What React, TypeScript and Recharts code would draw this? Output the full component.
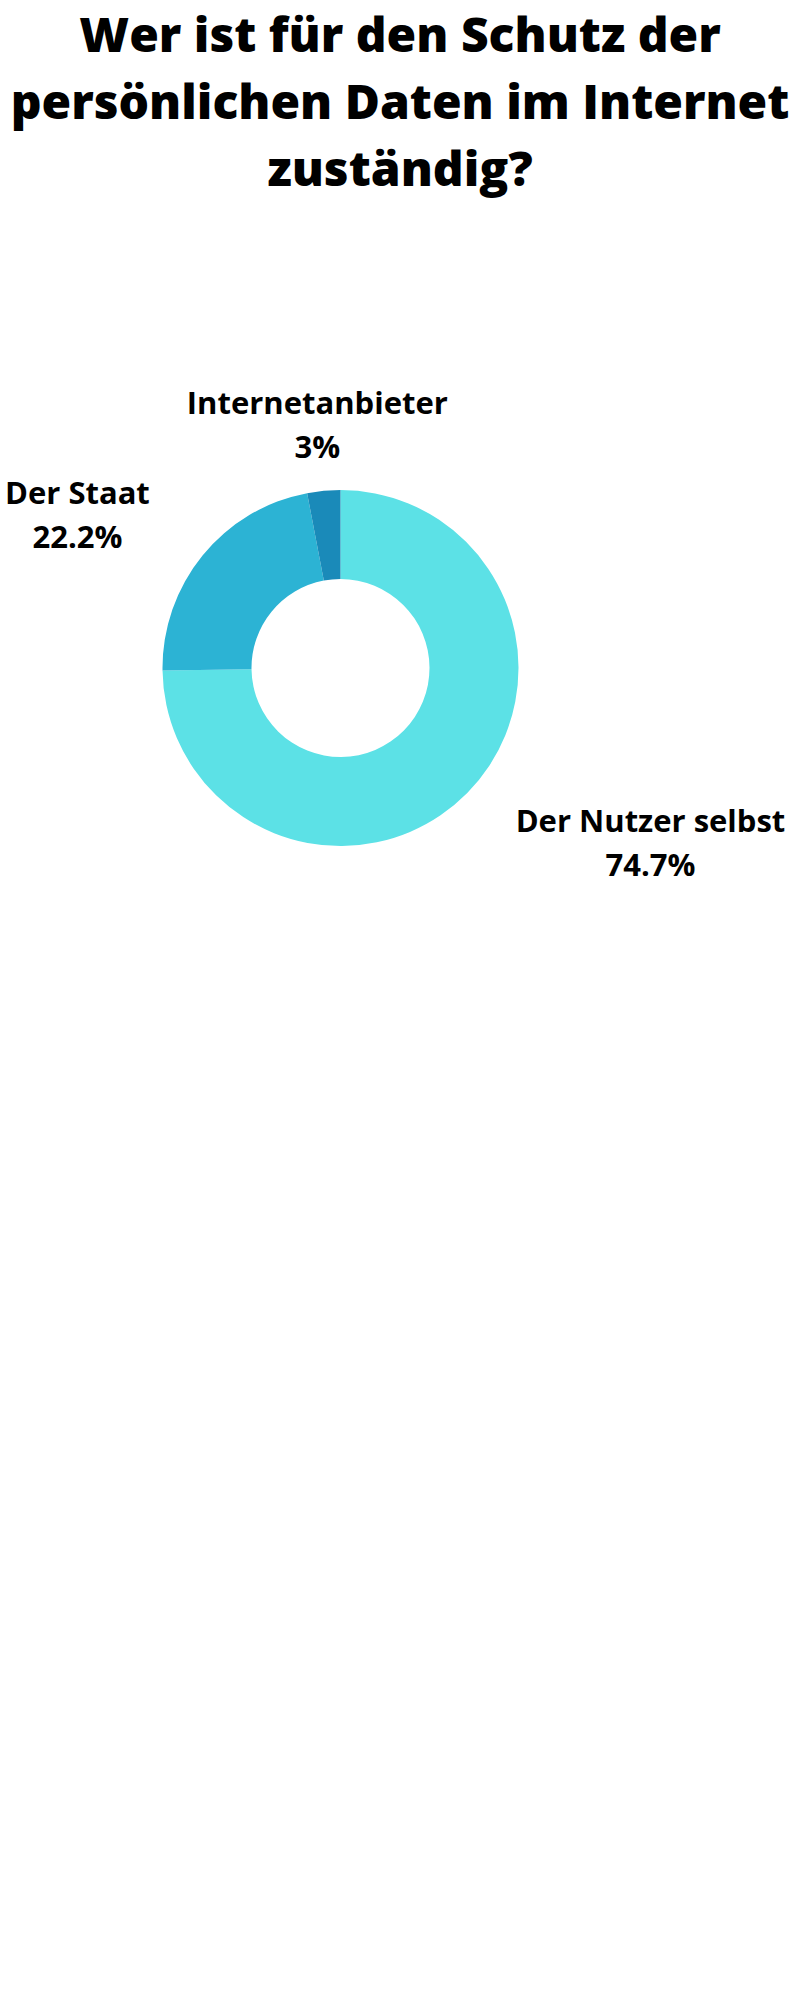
import React from 'react'
import { PieChart, Pie, Cell } from 'recharts'

// Survey answers, clockwise from 12 o'clock
const categories = ['Der Nutzer selbst', 'Der Staat', 'Internetanbieter']
const shares = [74.7, 22.2, 3]
const sliceColors = ['#5ce1e6', '#2cb3d4', '#1a8ab9']

const titleLines = [
  'Wer ist für den Schutz der',
  'persönlichen Daten im Internet',
  'zuständig?',
]

const FONT = '"Open Sans", "Noto Sans", sans-serif'
const LABEL_SIZE = 31

const pieData = categories.map((name, i) => ({ name, value: shares[i] }))

// width of a label line, so the two centred lines can sit beside the ring
function textWidth(s: string) {
  try {
    const ctx = document.createElement('canvas').getContext('2d')
    if (ctx) {
      ctx.font = `700 ${LABEL_SIZE}px ${FONT}`
      const w = ctx.measureText(s).width
      if (w > 0) return w
    }
  } catch (e) {
    // fall through
  }
  return s.length * LABEL_SIZE * 0.56
}

function renderLabel(props: any) {
  const RADIAN = Math.PI / 180
  const { cx, cy, midAngle, outerRadius, name, value } = props
  const r = Number(outerRadius) + 68
  const cos = Math.cos(-Number(midAngle) * RADIAN)
  const sin = Math.sin(-Number(midAngle) * RADIAN)
  const px = Number(cx) + r * cos
  const py = Number(cy) + r * sin
  const pct = `${value}%`
  const half = Math.max(textWidth(name), textWidth(pct)) / 2
  const x = Math.abs(cos) < 0.2 ? px : cos > 0 ? px + half : px - half
  return (
    <text
      x={x}
      y={py}
      textAnchor="middle"
      fontFamily={FONT}
      fontWeight={700}
      fontSize={LABEL_SIZE}
      fill="#000"
    >
      <tspan x={x} dy={-9}>{name}</tspan>
      <tspan x={x} dy={44}>{pct}</tspan>
    </text>
  )
}

export default function App() {
  return (
    <div
      style={{
        position: 'absolute',
        left: 0,
        top: 0,
        width: 800,
        height: 2000,
        background: '#fff',
      }}
    >
      <div
        style={{
          position: 'absolute',
          top: 0,
          left: 0,
          width: 800,
          textAlign: 'center',
          fontFamily: FONT,
          fontWeight: 800,
          fontSize: 48,
          lineHeight: '67px',
          color: '#000',
        }}
      >
        {titleLines.map((line) => (
          <div key={line}>{line}</div>
        ))}
      </div>
      <div style={{ position: 'absolute', top: 0, left: 0 }}>
        <PieChart width={800} height={1000} margin={{ top: 0, right: 0, bottom: 0, left: 0 }}>
          <Pie
            data={pieData}
            dataKey="value"
            nameKey="name"
            cx={340.5}
            cy={668}
            innerRadius={89}
            outerRadius={178}
            startAngle={90}
            endAngle={-270}
            stroke="none"
            labelLine={false}
            label={renderLabel}
            isAnimationActive={false}
          >
            {pieData.map((_, i) => (
              <Cell key={`cell-${i}`} fill={sliceColors[i]} />
            ))}
          </Pie>
        </PieChart>
      </div>
    </div>
  )
}
